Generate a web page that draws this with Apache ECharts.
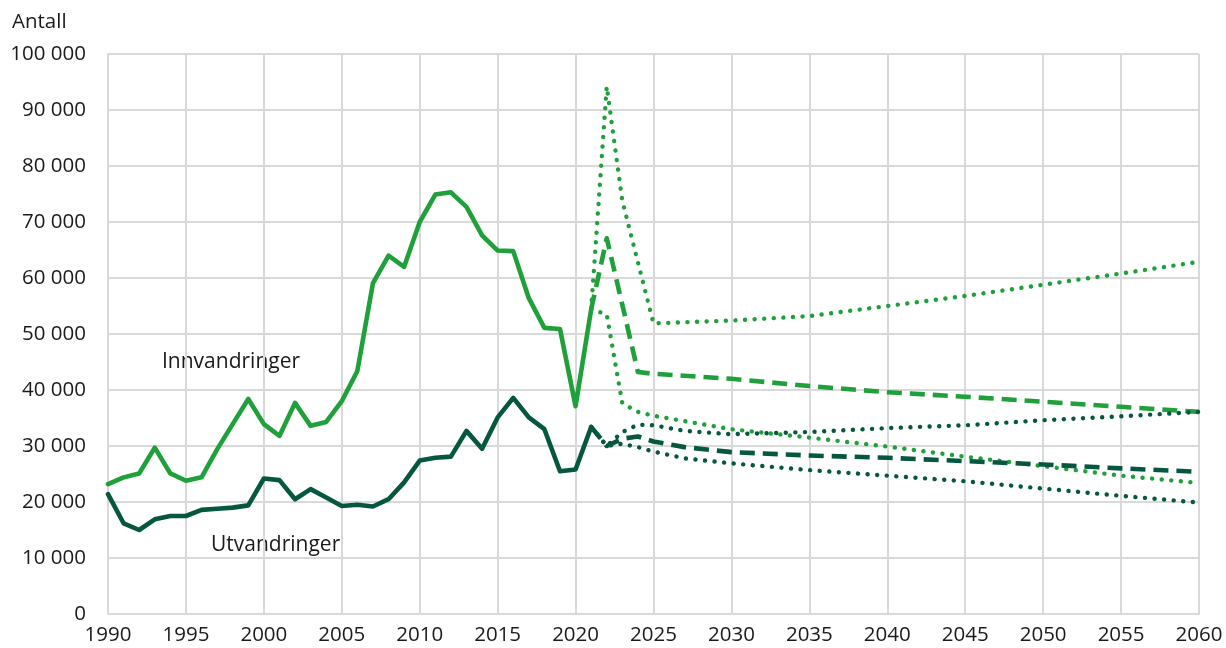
<!DOCTYPE html>
<html>
<head>
<meta charset="utf-8">
<script src="https://cdn.jsdelivr.net/npm/echarts@6/dist/echarts.min.js"></script>
<style>
  html, body { margin: 0; padding: 0; background: #fff; }
  #chart { width: 1226px; height: 648px; }
</style>
</head>
<body>
<div id="chart"></div>
<script>
// historiske tall
var years = [1990, 1991, 1992, 1993, 1994, 1995, 1996, 1997, 1998, 1999,
  2000, 2001, 2002, 2003, 2004, 2005, 2006, 2007, 2008, 2009,
  2010, 2011, 2012, 2013, 2014, 2015, 2016, 2017, 2018, 2019, 2020, 2021]
var innHist = [23200, 24400, 25100, 29700, 25100, 23800, 24400, 29400, 33900, 38400,
  33900, 31800, 37700, 33600, 34300, 38000, 43400, 59100, 64000, 62000,
  70000, 74900, 75300, 72700, 67600, 64900, 64800, 56400, 51100, 50900, 37100, 54400]
var utHist = [21400, 16200, 15000, 16900, 17500, 17500, 18600, 18800, 19000, 19400,
  24200, 23900, 20500, 22300, 20800, 19300, 19500, 19200, 20500, 23500,
  27400, 27900, 28100, 32700, 29500, 35100, 38600, 35100, 33000, 25500, 25800, 33400]

// framskrivinger
var innProjYears = [2021, 2022, 2023, 2024, 2025, 2030, 2035, 2040, 2045, 2050, 2055, 2060]
var innMiddle = [54400, 67100, 55200, 43200, 42900, 42000, 40700, 39600, 38800, 37900, 37000, 36100]
var innHigh = [54400, 94200, 73800, 62800, 51900, 52400, 53200, 55000, 56800, 58800, 60800, 62900]
var innLow = [54400, 53500, 37600, 36100, 35400, 33000, 31500, 29900, 28100, 26400, 24700, 23400]

var utProjYears = [2021, 2022, 2023, 2024, 2025, 2027, 2030, 2035, 2040, 2045, 2050, 2055, 2060]
var utMiddle = [33400, 30000, 31300, 31700, 30800, 29800, 28900, 28300, 27900, 27300, 26700, 26000, 25400]
var utHigh = [33400, 30000, 32500, 33800, 33700, 32700, 32100, 32500, 33200, 33700, 34600, 35300, 36100]
var utLow = [33400, 30000, 30400, 29800, 29000, 27800, 26900, 25700, 24700, 23700, 22400, 21100, 19900]

var green = '#1fa03a'
var dark = '#06573f'
var font = 'Open Sans'

function pairs (xs, ys) {
  return xs.map(function (x, i) { return [x, ys[i]] })
}

function line (name, xs, ys, color, kind) {
  var style = { color: color, width: 4.6, cap: 'round', join: 'round' }
  if (kind === 'dashed') {
    style.type = [15, 8]
    style.cap = 'butt'
  } else if (kind === 'dotted') {
    style.type = [0.1, 9.5]
    style.width = 4.4
  }
  return {
    name: name,
    type: 'line',
    data: pairs(xs, ys),
    showSymbol: false,
    symbol: 'none',
    silent: true,
    lineStyle: style
  }
}

var myChart = echarts.init(document.getElementById('chart'))

var option = {
  animation: false,
  grid: { left: 108, right: 27, top: 54, bottom: 34 },
  xAxis: {
    type: 'value',
    min: 1990,
    max: 2060,
    interval: 5,
    axisLine: { show: true, lineStyle: { color: '#d9d9d9', width: 2 } },
    axisTick: { show: false },
    axisLabel: {
      color: '#1a1a1a', fontSize: 20.5, fontFamily: font, margin: 11,
      formatter: function (v) { return String(v) }
    },
    splitLine: { show: true, lineStyle: { color: '#d9d9d9', width: 2 } }
  },
  yAxis: {
    type: 'value',
    min: 0,
    max: 100000,
    interval: 10000,
    axisLine: { show: true, lineStyle: { color: '#d9d9d9', width: 2 } },
    axisTick: { show: false },
    axisLabel: {
      color: '#1a1a1a',
      fontSize: 20.5,
      fontFamily: font,
      margin: 22,
      formatter: function (v) {
        return String(v).replace(/\B(?=(\d{3})+(?!\d))/g, ' ')
      }
    },
    splitLine: { show: true, lineStyle: { color: '#d9d9d9', width: 2 } }
  },
  graphic: [
    { type: 'text', left: 12, top: 12, style: { text: 'Antall', fontSize: 20.5, fontFamily: font, fill: '#1a1a1a' } },
    { type: 'text', left: 162, top: 352, style: { text: 'Innvandringer', fontSize: 21, fontFamily: font, fill: '#1a1a1a' } },
    { type: 'text', left: 211, top: 535, style: { text: 'Utvandringer', fontSize: 21, fontFamily: font, fill: '#1a1a1a' } }
  ],
  series: [
    line('Innvandringer høy', innProjYears, innHigh, green, 'dotted'),
    line('Innvandringer lav', innProjYears, innLow, green, 'dotted'),
    line('Innvandringer middels', innProjYears, innMiddle, green, 'dashed'),
    line('Utvandringer høy', utProjYears, utHigh, dark, 'dotted'),
    line('Utvandringer lav', utProjYears, utLow, dark, 'dotted'),
    line('Utvandringer middels', utProjYears, utMiddle, dark, 'dashed'),
    line('Innvandringer', years, innHist, green, 'solid'),
    line('Utvandringer', years, utHist, dark, 'solid')
  ]
}

myChart.setOption(option)
</script>
</body>
</html>
